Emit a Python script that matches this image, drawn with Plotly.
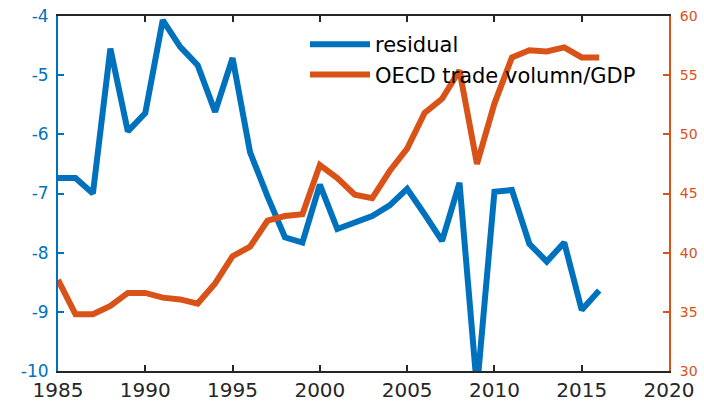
import plotly.graph_objects as go

years = list(range(1985, 2017))
residual = [-6.74, -6.74, -7.0, -4.55, -5.95, -5.64, -4.07, -4.52, -4.83, -5.62, -4.71,
            -6.3, -7.05, -7.74, -7.83, -6.85, -7.6, -7.5, -7.38, -7.2, -6.92, -7.35,
            -7.8, -6.82, -10.3, -6.97, -6.94, -7.85, -8.15, -7.83, -8.97, -8.64]
trade = [37.7, 34.8, 34.8, 35.5, 36.6, 36.6, 36.2, 36.05, 35.7, 37.4, 39.7,
         40.5, 42.7, 43.1, 43.25, 47.4, 46.3, 44.9, 44.6, 46.9, 48.8, 51.8,
         53.0, 55.4, 47.5, 52.6, 56.5, 57.1, 57.0, 57.35, 56.5, 56.5]
series_names = ["residual", "OECD trade volumn/GDP"]
x_ticks = [1985, 1990, 1995, 2000, 2005, 2010, 2015, 2020]
left_ticks = [-10, -9, -8, -7, -6, -5, -4]
right_ticks = [30, 35, 40, 45, 50, 55, 60]

BLUE = "#0072BD"
ORANGE = "#D95319"
DARK = "#262626"
FONT = "DejaVu Sans"

fig = go.Figure()
fig.add_trace(go.Scatter(x=years, y=residual, name=series_names[0], mode="lines",
                         line=dict(color=BLUE, width=6), yaxis="y"))
fig.add_trace(go.Scatter(x=years, y=trade, name=series_names[1], mode="lines",
                         line=dict(color=ORANGE, width=6), yaxis="y2"))

fig.update_layout(
    width=704, height=403,
    margin=dict(l=58, r=35, t=16, b=32),
    paper_bgcolor="white", plot_bgcolor="white",
    font=dict(family=FONT, color=DARK),
    xaxis=dict(range=[1985, 2020], tickvals=x_ticks, ticktext=[str(v) for v in x_ticks],
               showgrid=False, zeroline=False, showline=True, linecolor=DARK, linewidth=2,
               mirror="ticks", ticks="inside", ticklen=6, tickcolor=DARK, tickwidth=1.5,
               automargin=False, ticklabelstandoff=0,
               tickfont=dict(family=FONT, size=20, color=DARK)),
    yaxis=dict(range=[-10, -4], tickvals=left_ticks, ticktext=[str(v) for v in left_ticks],
               showgrid=False, zeroline=False, automargin=False,
               showline=True, linecolor=BLUE, linewidth=2, ticks="inside", ticklen=6,
               tickcolor=BLUE, tickwidth=1.5, ticklabelstandoff=4,
               tickfont=dict(family=FONT, size=17, color=BLUE)),
    yaxis2=dict(range=[30, 60], tickvals=right_ticks, overlaying="y", side="right",
                showgrid=False, zeroline=False, showline=True, linecolor=ORANGE, linewidth=2,
                ticks="inside", ticklen=6, tickcolor=ORANGE, tickwidth=1.5,
                ticklabelstandoff=6, automargin=False,
                tickfont=dict(family=FONT, size=14, color=ORANGE)),
    legend=dict(x=(305 - 58) / 611, y=1 - (24 - 16) / 355, xanchor="left", yanchor="top",
                bgcolor="rgba(0,0,0,0)", borderwidth=0, itemwidth=60,
                font=dict(family=FONT, size=21, color="black"), tracegroupgap=0),
)

fig.write_html("out.html", config={"displayModeBar": False},
               post_script="document.body.style.margin='0px';")
